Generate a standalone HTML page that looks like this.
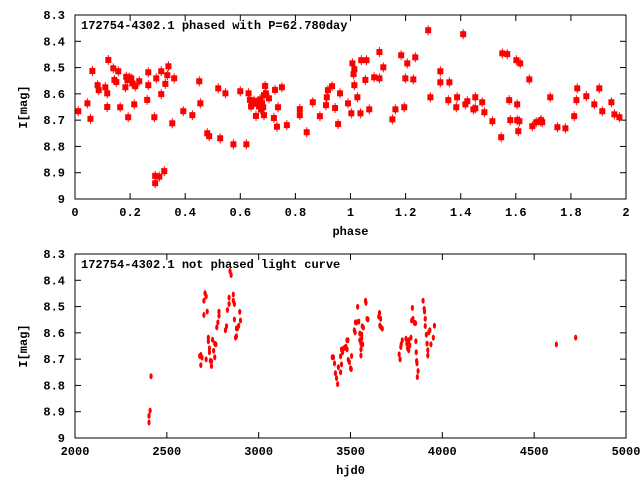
<!DOCTYPE html>
<html><head><meta charset="utf-8"><style>
html,body{margin:0;padding:0;background:#fff;}
svg{display:block;font-family:"Liberation Mono",monospace;font-size:12px;font-weight:bold;}
</style></head><body>
<svg id="chart" width="640" height="480" viewBox="0 0 640 480"></svg>
<script>
const phaseVals=[0.012,0.045,0.056,0.063,0.082,0.086,0.11,0.117,0.121,0.117,0.139,0.143,0.15,0.157,0.164,0.183,0.186,0.19,0.193,0.197,0.204,0.208,0.215,0.219,0.233,0.262,0.266,0.266,0.288,0.291,0.291,0.295,0.306,0.313,0.313,0.324,0.328,0.335,0.339,0.353,0.36,0.393,0.426,0.451,0.455,0.48,0.487,0.52,0.527,0.546,0.575,0.6,0.622,0.63,0.635,0.639,0.642,0.65,0.657,0.661,0.668,0.672,0.675,0.679,0.683,0.686,0.69,0.686,0.693,0.704,0.722,0.726,0.733,0.737,0.751,0.769,0.816,0.816,0.841,0.863,0.889,0.911,0.914,0.918,0.933,0.944,0.955,0.962,0.991,
1.003,1.007,1.011,1.014,1.014,1.025,1.036,1.039,1.054,1.058,1.068,1.086,1.105,1.105,1.119,1.152,1.163,1.184,1.195,1.199,1.206,1.228,1.235,1.282,1.29,1.326,1.326,1.355,1.359,1.384,1.387,1.409,1.417,1.424,1.446,1.453,1.453,1.478,1.486,1.515,1.547,1.551,1.569,1.576,1.58,1.602,1.605,1.605,1.609,1.613,1.616,1.649,1.66,1.674,1.689,1.692,1.696,1.725,1.751,1.78,1.812,1.82,1.823,1.856,1.885,1.903,1.914,1.947,1.958,1.976];
const phaseMags=[8.666,8.636,8.695,8.513,8.567,8.586,8.575,8.65,8.471,8.598,8.503,8.547,8.555,8.514,8.651,8.575,8.535,8.547,8.689,8.538,8.541,8.56,8.64,8.571,8.552,8.623,8.518,8.567,8.689,8.912,8.94,8.541,8.915,8.514,8.601,8.894,8.562,8.529,8.495,8.712,8.541,8.666,8.681,8.552,8.636,8.75,8.761,8.579,8.769,8.598,8.792,8.59,8.792,8.598,8.623,8.648,8.636,8.626,8.684,8.638,8.648,8.621,8.66,8.636,8.651,8.605,8.57,8.681,8.598,8.617,8.692,8.585,8.725,8.651,8.575,8.719,8.658,8.681,8.746,8.632,8.685,8.643,8.613,8.586,8.571,8.654,8.715,8.598,8.636,
8.674,8.484,8.525,8.506,8.567,8.613,8.674,8.472,8.547,8.472,8.659,8.537,8.441,8.541,8.499,8.697,8.659,8.453,8.651,8.541,8.484,8.545,8.461,8.358,8.613,8.514,8.556,8.624,8.556,8.651,8.613,8.373,8.64,8.628,8.659,8.613,8.655,8.632,8.67,8.704,8.765,8.446,8.449,8.624,8.7,8.472,8.64,8.7,8.742,8.704,8.484,8.545,8.723,8.708,8.704,8.7,8.708,8.613,8.727,8.731,8.685,8.624,8.579,8.609,8.64,8.579,8.666,8.632,8.678,8.689];
const hjdVals=[2403,2403,2409,2414,2679,2685,2685,2691,2702,2702,2708,2714,2714,2720,2726,2726,2732,2732,2737,2743,2743,2749,2755,2761,2761,2767,2772,2778,2784,2784,2819,2825,2830,2839,2839,2844,2850,2862,2862,2868,2868,2874,2879,2879,2885,2891,2897,2901,
3401,3407,3413,3418,3424,3430,3434,3446,3446,3451,3451,3457,3463,3469,3475,3481,3481,3486,3488,3494,3500,3504,3506,3521,3525,3527,3533,3539,3545,3551,3551,3557,3557,3557,3561,3561,3564,3566,3570,3582,3584,3590,3595,3654,3658,3660,3664,3665,3673,
3765,3770,3774,3776,3782,3802,3807,3811,3817,3817,3823,3829,3833,3837,3840,3848,3854,3856,3858,3860,3862,3864,3868,3895,3901,3903,3907,3907,3913,3917,3921,3921,3926,3932,3938,3951,3957,4621,4726];
const hjdMags=[8.941,8.916,8.896,8.765,8.688,8.684,8.723,8.694,8.478,8.532,8.449,8.461,8.701,8.519,8.618,8.632,8.659,8.674,8.706,8.726,8.708,8.626,8.668,8.641,8.693,8.644,8.579,8.56,8.535,8.519,8.59,8.575,8.513,8.49,8.466,8.365,8.38,8.454,8.478,8.49,8.549,8.618,8.613,8.583,8.583,8.573,8.52,8.553,
8.693,8.693,8.716,8.753,8.772,8.795,8.731,8.75,8.689,8.72,8.663,8.674,8.659,8.656,8.653,8.628,8.663,8.628,8.703,8.712,8.735,8.738,8.688,8.59,8.598,8.56,8.56,8.501,8.557,8.603,8.628,8.641,8.663,8.686,8.606,8.621,8.575,8.644,8.58,8.478,8.486,8.547,8.549,8.538,8.524,8.572,8.547,8.578,8.584,
8.682,8.701,8.654,8.644,8.628,8.622,8.641,8.659,8.628,8.666,8.647,8.618,8.553,8.505,8.547,8.562,8.563,8.632,8.674,8.707,8.716,8.768,8.745,8.478,8.509,8.519,8.547,8.574,8.607,8.641,8.666,8.686,8.598,8.59,8.644,8.618,8.573,8.644,8.618];
const phaseTicks=["0","0.2","0.4","0.6","0.8","1","1.2","1.4","1.6","1.8","2"];
const hjdTicks=["2000","2500","3000","3500","4000","4500","5000"];
const magTicks=["8.3","8.4","8.5","8.6","8.7","8.8","8.9","9"];

const NS="http://www.w3.org/2000/svg";
const svg=document.getElementById('chart');
function mk(tag,attrs,parent){const e=document.createElementNS(NS,tag);for(const k in attrs)e.setAttribute(k,attrs[k]);(parent||svg).appendChild(e);return e;}
const L=75,R=626;
function panel(top,bot,xmin,xmax,xt,xlabel,title,name){
  const g=mk('g',{});
  
  
  const sx=v=>L+(v-xmin)/(xmax-xmin)*(R-L);
  const sy=v=>top+(v-8.3)/0.7*(bot-top);
  const box=mk('rect',{x:L,y:top,width:R-L,height:bot-top,fill:'none',stroke:'#000','stroke-width':1},g);
  
  
  xt.forEach(t=>{const x=sx(parseFloat(t));
    mk('line',{x1:x,y1:bot,x2:x,y2:bot-6,stroke:'#000'},g);
    mk('line',{x1:x,y1:top,x2:x,y2:top+6,stroke:'#000'},g);
    const tx=mk('text',{x:x,y:bot+17,'text-anchor':'middle'},g);tx.textContent=t;
    
    });
  magTicks.forEach(t=>{const y=sy(parseFloat(t));
    mk('line',{x1:L,y1:y,x2:L+6,y2:y,stroke:'#000'},g);
    mk('line',{x1:R,y1:y,x2:R-6,y2:y,stroke:'#000'},g);
    const tx=mk('text',{x:65,y:y+4,'text-anchor':'end'},g);tx.textContent=t;
    
    });
  const xl=mk('text',{x:(L+R)/2,y:bot+36,'text-anchor':'middle'},g);xl.textContent=xlabel;
  
  
  const yl=mk('text',{x:0,y:0,'text-anchor':'middle',transform:`translate(27,${(top+bot)/2}) rotate(-90)`},g);yl.textContent='I[mag]';
  
  
  const ti=mk('text',{x:81,y:top+14},g);ti.textContent=title;
  
  
  return {sx,sy,g};
}
const p1=panel(15,199,0,2,phaseTicks,'phase','172754-4302.1 phased with P=62.780day','phased-panel');
const p2=panel(254,438,2000,5000,hjdTicks,'hjd0','172754-4302.1 not phased light curve','unphased-panel');
phaseVals.forEach((ph,i)=>{
  const x=p1.sx(ph),y=p1.sy(phaseMags[i]);
  const pt=mk('g',{},p1.g);
  
  
  mk('line',{x1:x,y1:y-5,x2:x,y2:y+5,stroke:'#f00','stroke-width':1},pt);
  mk('rect',{x:x-3,y:y-3,width:6,height:6,fill:'#f00'},pt);
});
hjdVals.forEach((h,i)=>{
  const e=mk('ellipse',{cx:p2.sx(h),cy:p2.sy(hjdMags[i]),rx:1.6,ry:3,fill:'#f00'},p2.g);
  
  
});
</script>
</body></html>
